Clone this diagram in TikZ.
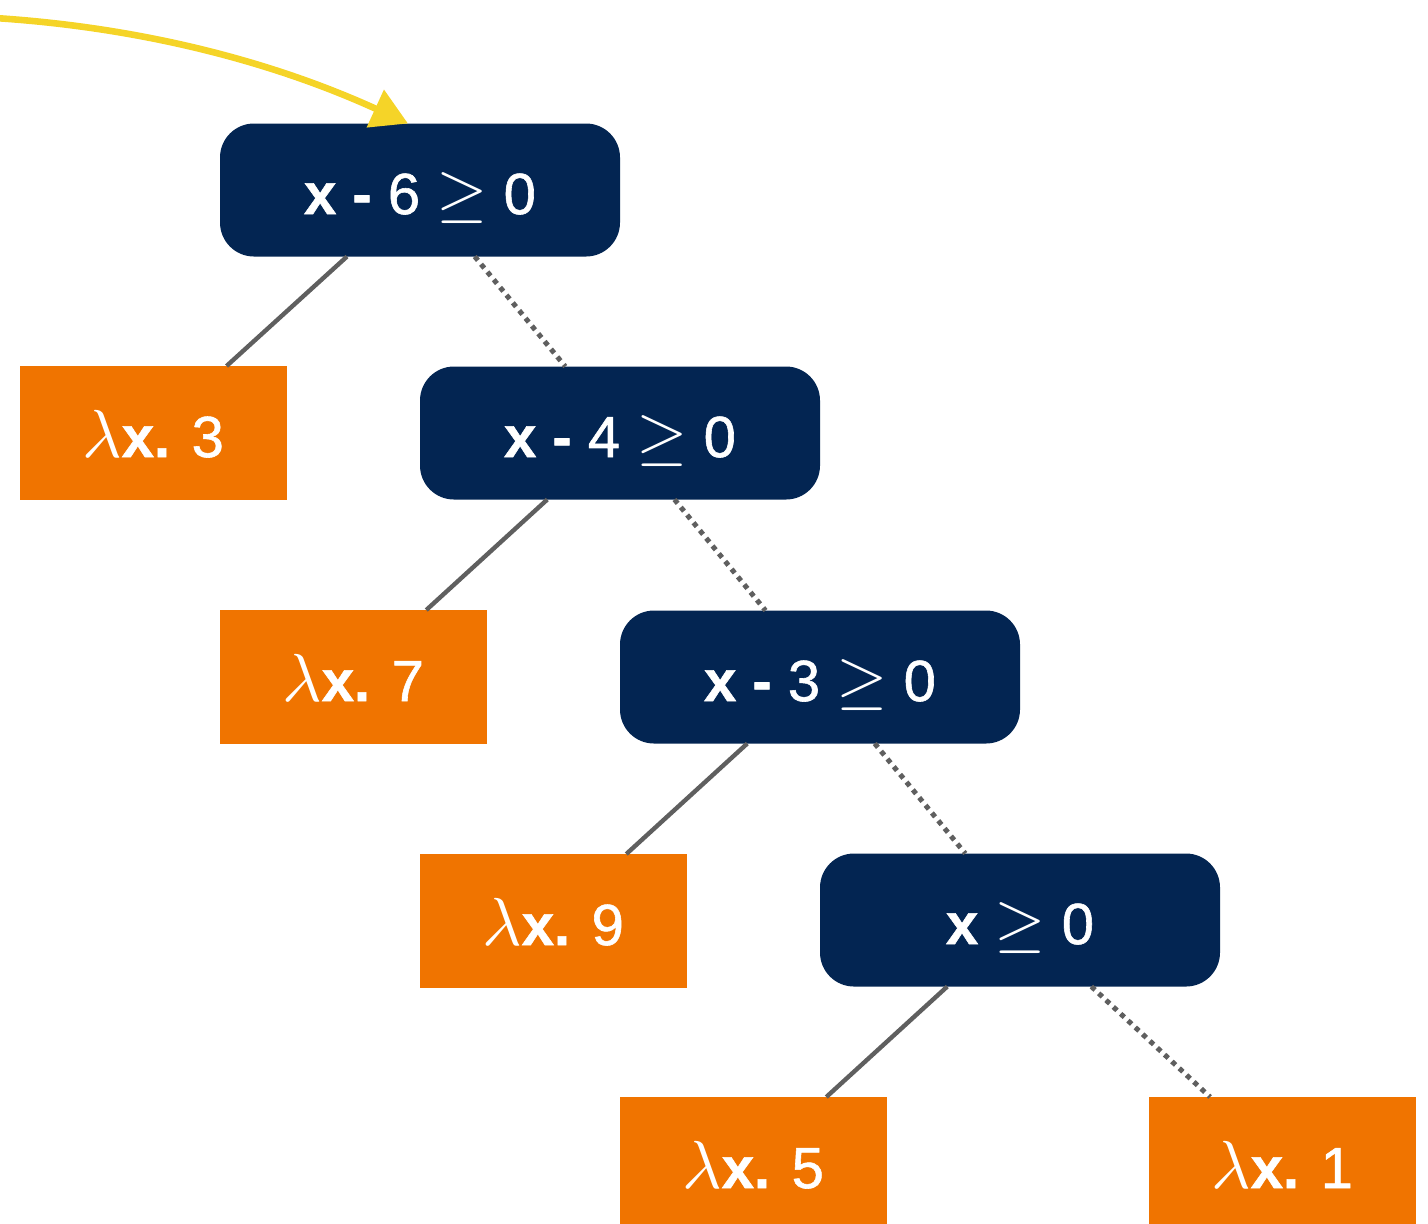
\documentclass[tikz,border=0pt]{standalone}
\usepackage{fontspec}
\setmainfont{Liberation Sans}
\newfontfamily\medfont[FakeBold=1]{Liberation Sans}
\usetikzlibrary{arrows.meta,calc}
\definecolor{navy}{RGB}{3,37,82}
\definecolor{orangebox}{RGB}{240,116,0}
\definecolor{yellowarrow}{RGB}{245,212,40}
\definecolor{edgegray}{RGB}{95,95,95}
\newcommand{\mygeq}{{\fontsize{10}{12}\selectfont\scalebox{3.3}{$\geq$}}}
\newcommand{\mylam}{{\fontsize{10}{12}\selectfont\scalebox{3.4}{$\lambda$}}}
\begin{document}
\begin{tikzpicture}[x=0.5pt,y=-0.5pt,
  testbox/.style={fill=navy, rounded corners=17pt, minimum width=200pt, minimum height=66.5pt,
    inner sep=0pt, outer sep=0pt, text=white, font=\fontsize{29}{34}\medfont,
    text height=24pt, text depth=0pt},
  leafbox/.style={fill=orangebox, minimum width=133.5pt, minimum height=67pt,
    inner sep=0pt, outer sep=0pt, text=white, font=\fontsize{29}{34}\medfont,
    text height=24pt, text depth=0pt},
  yesedge/.style={draw=edgegray, line width=2.2pt},
  noedge/.style={draw=edgegray, line width=2.5pt, dash pattern=on 2.5pt off 2.5pt},
  entryarrow/.style={draw=yellowarrow, line width=3.3pt, -{Triangle[length=18pt,width=20pt]}}
]
\useasboundingbox (0,0) rectangle (1428,1223);
\node[testbox] (t1) at (420,190) {\textbf{x -} 6 \mygeq{} 0};
\node[testbox] (t2) at (620,433) {\textbf{x -} 4 \mygeq{} 0};
\node[testbox] (t3) at (820,677) {\textbf{x -} 3 \mygeq{} 0};
\node[testbox] (t4) at (1020,920) {\textbf{x} \mygeq{} 0};
\node[leafbox] (l1) at (153,433) {\mylam\textbf{x.} 3};
\node[leafbox] (l2) at (353,677) {\mylam\textbf{x.} 7};
\node[leafbox] (l3) at (553,921) {\mylam\textbf{x.} 9};
\node[leafbox] (l4) at (753,1164) {\mylam\textbf{x.} 5};
\node[leafbox] (l5) at (1282,1164) {\mylam\textbf{x.} 1};
\draw[yesedge] (t1) -- (l1);
\draw[noedge] (t1) -- (t2);
\draw[yesedge] (t2) -- (l2);
\draw[noedge] (t2) -- (t3);
\draw[yesedge] (t3) -- (l3);
\draw[noedge] (t3) -- (t4);
\draw[yesedge] (t4) -- (l4);
\draw[noedge] (t4) -- (l5);
\coordinate (start) at (-5,18);
\coordinate (tip) at ($(t1.north)+(-12,0)$);
\draw[entryarrow] (start) .. controls (150,28) and (280,65) .. (tip);
\end{tikzpicture}
\end{document}
